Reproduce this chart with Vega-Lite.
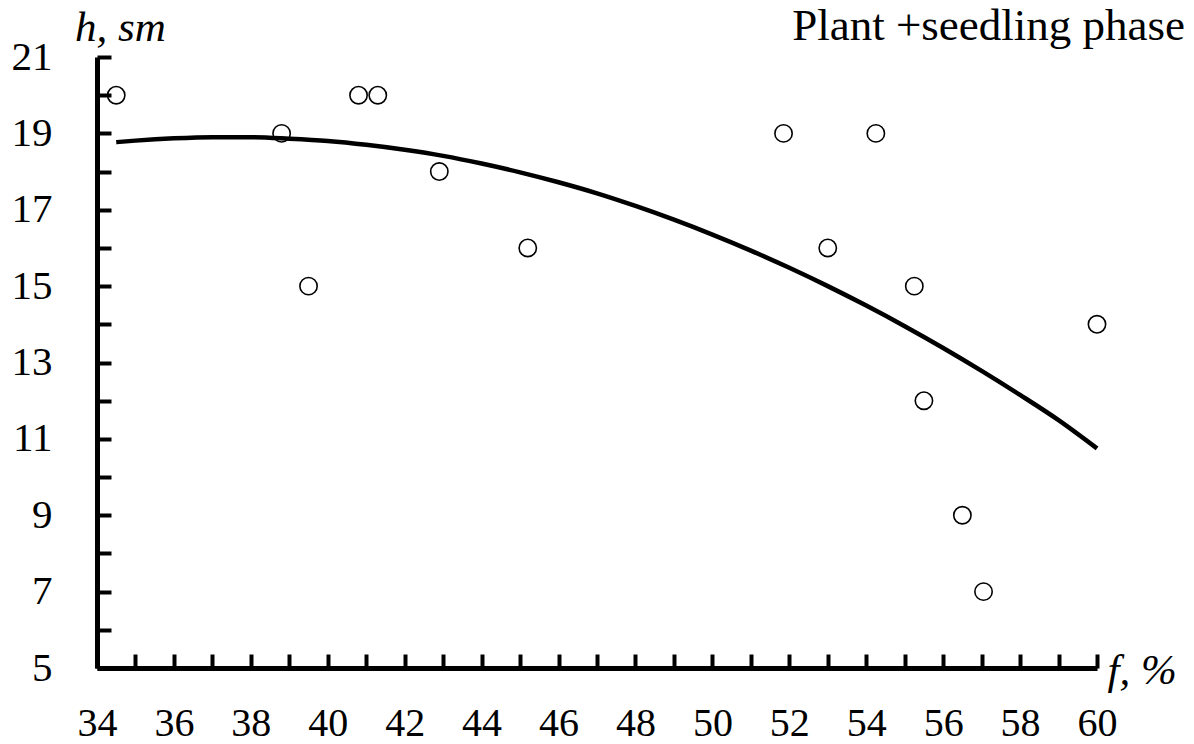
{
  "$schema": "https://vega.github.io/schema/vega-lite/v6.json",
  "width": 1000,
  "height": 611,
  "autosize": {"type": "none"},
  "padding": {"left": 97, "top": 57, "right": 97, "bottom": 76},
  "background": "white",
  "config": {
    "view": {"stroke": null},
    "font": "Liberation Serif",
    "axis": {"grid": false, "domainColor": "black", "domainWidth": 5, "tickColor": "black", "tickWidth": 4, "labelColor": "black", "labelFont": "Liberation Serif", "labelFontSize": 41, "titleFont": "Liberation Serif", "titleFontSize": 43, "titleFontWeight": "normal", "titleColor": "black"}
  },
  "title": {"text": "Plant +seedling phase", "anchor": "end", "frame": "group", "fontSize": 45, "font": "Liberation Serif", "fontWeight": "normal", "color": "black", "baseline": "alphabetic", "offset": 0, "dx": 88, "dy": 79},
  "datasets": {
    "obs": [
      {"f": 34.5, "h": 20}, {"f": 38.8, "h": 19}, {"f": 39.5, "h": 15}, {"f": 40.8, "h": 20},
      {"f": 41.3, "h": 20}, {"f": 42.9, "h": 18}, {"f": 45.2, "h": 16}, {"f": 51.85, "h": 19},
      {"f": 53.0, "h": 16}, {"f": 54.25, "h": 19}, {"f": 55.25, "h": 15}, {"f": 55.5, "h": 12},
      {"f": 56.5, "h": 9}, {"f": 57.05, "h": 7}, {"f": 60.0, "h": 14}
    ],
    "fit": [
      {"f": 34.5, "h": 18.77}, {"f": 35, "h": 18.81}, {"f": 36, "h": 18.87}, {"f": 37, "h": 18.9},
      {"f": 38, "h": 18.9}, {"f": 39, "h": 18.86}, {"f": 40, "h": 18.8}, {"f": 41, "h": 18.7},
      {"f": 42, "h": 18.57}, {"f": 43, "h": 18.41}, {"f": 44, "h": 18.21}, {"f": 45, "h": 17.98},
      {"f": 46, "h": 17.72}, {"f": 47, "h": 17.43}, {"f": 48, "h": 17.1}, {"f": 49, "h": 16.74},
      {"f": 50, "h": 16.35}, {"f": 51, "h": 15.93}, {"f": 52, "h": 15.48}, {"f": 53, "h": 15.0},
      {"f": 54, "h": 14.49}, {"f": 55, "h": 13.95}, {"f": 56, "h": 13.38}, {"f": 57, "h": 12.78},
      {"f": 58, "h": 12.15}, {"f": 59, "h": 11.49}, {"f": 60, "h": 10.75}
    ]
  },
  "encoding": {
    "x": {"field": "f", "type": "quantitative", "scale": {"domain": [34, 60], "nice": false, "zero": false},
      "axis": {"values": [34,35,36,37,38,39,40,41,42,43,44,45,46,47,48,49,50,51,52,53,54,55,56,57,58,59,60],
        "labelExpr": "datum.value % 2 == 0 ? datum.label : ''", "tickSize": -14, "labelPadding": 49, "labelFontSize": 40, "labelBaseline": "top", "labelFlush": false, "labelOverlap": false,
        "title": "f, %", "titleAngle": 0, "titleAnchor": "start", "titleAlign": "left", "titleBaseline": "alphabetic", "titleX": 1010, "titleY": 15, "titleFontStyle": "italic",
        "encode": {"ticks": {"update": {"y2": {"signal": "datum.value % 2 == 0 ? -14 : -10"}}}}}},
    "y": {"field": "h", "type": "quantitative", "scale": {"domain": [5, 21], "nice": false, "zero": false},
      "axis": {"values": [5,6,7,8,9,10,11,12,13,14,15,16,17,18,19,20,21],
        "labelExpr": "datum.value % 2 == 1 ? datum.label : ''", "tickSize": -14, "labelPadding": 59, "labelBaseline": "middle", "labelFlush": false, "labelOverlap": false,
        "title": "h, sm", "titleAngle": 0, "titleAlign": "center", "titleBaseline": "alphabetic", "titleX": 23, "titleY": -17, "titleFontStyle": "italic",
        "encode": {"ticks": {"update": {"x2": {"signal": "datum.value % 2 == 1 ? 14 : 10"}}}}}}
  },
  "layer": [
    {"data": {"name": "fit"}, "mark": {"type": "line", "color": "black", "strokeWidth": 4.5, "interpolate": "monotone"}},
    {"data": {"name": "obs"}, "mark": {"type": "point", "shape": "circle", "filled": false, "stroke": "black", "strokeWidth": 1.6, "size": 300, "opacity": 1}}
  ]
}
